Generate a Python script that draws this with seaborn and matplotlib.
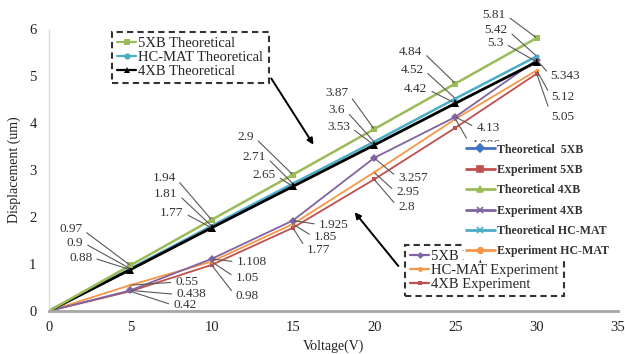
import numpy as np
import pandas as pd
import seaborn as sns
import matplotlib
matplotlib.use("Agg")
import matplotlib.pyplot as plt
from matplotlib.lines import Line2D

# ---- data -------------------------------------------------------------
voltage = [0, 5, 10, 15, 20, 25, 30]

theo_5xb = [0, 0.97, 1.94, 2.9, 3.87, 4.84, 5.81]
theo_hcmat = [0, 0.9, 1.81, 2.71, 3.6, 4.52, 5.42]
theo_4xb = [0, 0.88, 1.77, 2.65, 3.53, 4.42, 5.3]

exp_5xb = [0, 0.438, 1.108, 1.925, 3.257, 4.13, 5.343]
exp_hcmat = [0, 0.55, 1.05, 1.85, 2.95, 4.086, 5.12]
exp_4xb = [0, 0.42, 0.98, 1.77, 2.8, 3.9, 5.05]

# value labels (None = label not shown)
lab_exp_4xb = ["0.42", "0.98", "1.77", "2.8", None, "5.05"]

series_names = ["5XB Theoretical", "HC-MAT Theoretical", "4XB Theoretical",
                "5XB Experiment", "HC-MAT Experiment", "4XB Experiment"]
series_values = [theo_5xb, theo_hcmat, theo_4xb, exp_5xb, exp_hcmat, exp_4xb]

colors = {"5XB Theoretical": "#9BBB59", "HC-MAT Theoretical": "#4BACC6",
          "4XB Theoretical": "#000000", "5XB Experiment": "#8064A2",
          "HC-MAT Experiment": "#F79646", "4XB Experiment": "#C0504D"}
markers = {"5XB Theoretical": "s", "HC-MAT Theoretical": "o",
           "4XB Theoretical": "^", "5XB Experiment": "D",
           "HC-MAT Experiment": "o", "4XB Experiment": "s"}
msizes = {"5XB Theoretical": 4.5, "HC-MAT Theoretical": 3,
          "4XB Theoretical": 5.5, "5XB Experiment": 4,
          "HC-MAT Experiment": 2.5, "4XB Experiment": 2.5}

rows = []
for name, vals in zip(series_names, series_values):
    for v, d in zip(voltage, vals):
        rows.append({"Voltage": v, "Displacement": d, "Series": name})
df = pd.DataFrame(rows)

# ---- figure -----------------------------------------------------------
sns.set_style("white")
plt.rcParams["font.family"] = ["Liberation Serif", "DejaVu Serif"]

fig = plt.figure(figsize=(6.25, 3.54), dpi=100)
ax = fig.add_axes([0.0784, 0.1215, 0.9104, 0.7965])

widths = {"5XB Theoretical": 1.8, "HC-MAT Theoretical": 1.8, "4XB Theoretical": 2.0,
          "5XB Experiment": 1.3, "HC-MAT Experiment": 1.3, "4XB Experiment": 1.3}
for name in ["4XB Experiment", "HC-MAT Experiment", "5XB Experiment",
             "HC-MAT Theoretical", "4XB Theoretical", "5XB Theoretical"]:
    sub = df[df["Series"] == name]
    sns.lineplot(data=sub, x="Voltage", y="Displacement", ax=ax,
                 color=colors[name], marker=markers[name],
                 markersize=msizes[name], markeredgewidth=0,
                 linewidth=widths[name], sort=False, legend=False)

ax.set_xlim(0, 35)
ax.set_ylim(0, 6)
ax.set_xticks(range(0, 36, 5))
ax.set_yticks(range(0, 7))
ax.tick_params(axis="both", length=0, labelsize=10.5, colors="#222222")
ax.tick_params(axis="y", pad=9)
ax.tick_params(axis="x", pad=7)
ax.set_xlabel("Voltage(V)", fontsize=10, color="#222222", labelpad=4)
ax.set_ylabel("Displacement (um)", fontsize=10, color="#222222", labelpad=6)
for s in ["top", "right"]:
    ax.spines[s].set_visible(False)
ax.spines["left"].set_color("#dddddd")
ax.spines["left"].set_linewidth(1.0)
ax.spines["bottom"].set_color("#a6a6a6")
ax.spines["bottom"].set_linewidth(2.0)

# ---- value labels with leader lines ------------------------------------
theo_offsets = {
    "5XB Theoretical": ([-44, -32, -35, -22, -29, -27], [36, 42, 38, 36, 32, 23]),
    "HC-MAT Theoretical": ([-43, -30, -23, -25, -28, -25], [26, 32, 27, 32, 29, 26]),
    "4XB Theoretical": ([-34, -24, -13, -20, -24, -29], [12, 15, 11, 18, 14, 19]),
}
exp_offsets = {
    "5XB Experiment": ([42, 21, 22, 20, 17, 10], [-4, -3, -4, -20, -11, -16]),
    "HC-MAT Experiment": ([41, 20, 17, 18, 11, 11], [3, -16, -13, -20, -26, -27]),
    "4XB Experiment": ([39, 20, 10, 20, 10, 11], [-14, -31, -22, -28, -40, -43]),
}
exp_labels = {"5XB Experiment": [f"{v:g}" for v in exp_5xb[1:]],
              "HC-MAT Experiment": [f"{v:g}" for v in exp_hcmat[1:]],
              "4XB Experiment": lab_exp_4xb}
theo_vals = {"5XB Theoretical": theo_5xb, "HC-MAT Theoretical": theo_hcmat,
             "4XB Theoretical": theo_4xb}
exp_vals = {"5XB Experiment": exp_5xb, "HC-MAT Experiment": exp_hcmat,
            "4XB Experiment": exp_4xb}

lead = dict(arrowstyle="-", color="#595959", lw=0.8, shrinkA=1, shrinkB=1)
for name, (dxs, dys) in theo_offsets.items():
    for i, (dx, dy) in enumerate(zip(dxs, dys)):
        x, y = voltage[i + 1], theo_vals[name][i + 1]
        ax.annotate(f"{y:g}", xy=(x, y), xytext=(dx - 4, dy),
                    textcoords="offset pixels", ha="right", va="center",
                    fontsize=9.5, color="#333333",
                    arrowprops=dict(lead, relpos=(1, 0.5)))
for name, (dxs, dys) in exp_offsets.items():
    for i, (dx, dy) in enumerate(zip(dxs, dys)):
        txt = exp_labels[name][i]
        if txt is None:
            continue
        x, y = voltage[i + 1], exp_vals[name][i + 1]
        ax.annotate(txt, xy=(x, y), xytext=(dx + 4, dy),
                    textcoords="offset pixels", ha="left", va="center",
                    fontsize=9.5, color="#333333",
                    arrowprops=dict(lead, relpos=(0, 0.5)))

# ---- dashed-box legends -------------------------------------------------
def handle(name, ms):
    return Line2D([], [], color=colors[name], marker=markers[name],
                  markersize=ms, markeredgewidth=0, lw=1.6)

leg_theo = ax.legend([handle(n, 4.5) for n in series_names[:3]],
                     series_names[:3],
                     loc="upper left", bbox_to_anchor=(0.111, 0.989),
                     borderaxespad=0, fontsize=10.5, frameon=True,
                     fancybox=False, labelspacing=0.05, handlelength=1.3,
                     handletextpad=0.15, borderpad=0.35)
fr = leg_theo.get_frame()
fr.set_edgecolor("black"); fr.set_linestyle((0, (3, 2))); fr.set_linewidth(1.5)
ax.add_artist(leg_theo)

leg_exp = ax.legend([handle(n, 3.5) for n in series_names[3:]],
                    series_names[3:],
                    loc="upper left", bbox_to_anchor=(0.626, 0.234),
                    borderaxespad=0, fontsize=10.5, frameon=True,
                    fancybox=False, labelspacing=0.05, handlelength=1.3,
                    handletextpad=0.15, borderpad=0.35)
fr = leg_exp.get_frame()
fr.set_edgecolor("black"); fr.set_linestyle((0, (3, 2))); fr.set_linewidth(1.5)
leg_exp.set_zorder(5)
ax.add_artist(leg_exp)

# ---- series legend ------------------------------------------------------
xl_names = ["Theoretical  5XB", "Experiment 5XB", "Theoretical 4XB",
            "Experiment 4XB", "Theoretical HC-MAT", "Experiment HC-MAT"]
xl_colors = ["#4472C4", "#C0504D", "#9BBB59", "#8064A2", "#4BACC6", "#F79646"]
xl_markers = ["D", "s", "^", "x", "x", "o"]
xl_handles = [Line2D([], [], color=c, marker=m, markersize=4, lw=2,
                     markeredgewidth=1.2)
              for c, m in zip(xl_colors, xl_markers)]
leg_xl = ax.legend(xl_handles, xl_names, loc="upper left",
                   bbox_to_anchor=(0.73, 0.6), borderaxespad=0,
                   prop={"family": "Liberation Serif", "weight": "bold",
                         "size": 8.6},
                   frameon=True, fancybox=False, labelspacing=0.7,
                   handlelength=2.4, handletextpad=0.2, borderpad=0.15)
leg_xl.get_frame().set_facecolor("white")
leg_xl.get_frame().set_edgecolor("white")
leg_xl.get_frame().set_alpha(1)
for t in leg_xl.get_texts():
    t.set_color("#333333")
leg_xl.set_zorder(6)

# ---- pointer arrows -----------------------------------------------------
arrow = dict(arrowstyle="-|>", color="black", lw=1.4, mutation_scale=9)
ax.annotate("", xy=(0.4675, 0.5816), xytext=(0.388, 0.833),
            xycoords="axes fraction", arrowprops=arrow)
ax.annotate("", xy=(0.534, 0.358), xytext=(0.617, 0.152),
            xycoords="axes fraction", arrowprops=arrow)

fig.savefig("out.png", dpi=100, facecolor="white")
